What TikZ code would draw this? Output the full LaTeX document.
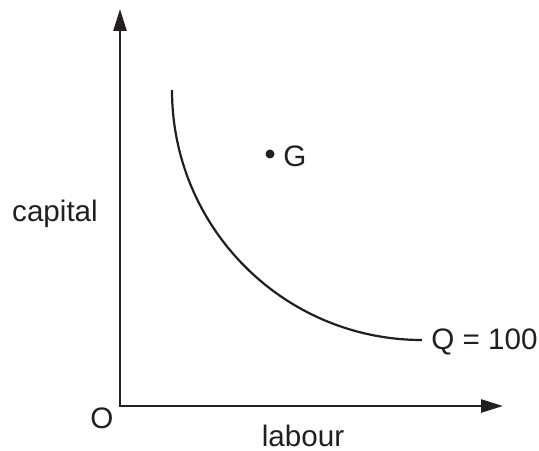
\documentclass[tikz,border=0pt]{standalone}
\usepackage{fontspec}
\setmainfont{Liberation Sans}
\usetikzlibrary{arrows.meta}
\definecolor{ink}{RGB}{35,31,32}

\begin{document}
\begin{tikzpicture}[x=0.5pt,y=0.5pt,font=\fontsize{14.8}{17}\selectfont]
 \useasboundingbox (0,0) rectangle (539,450);
 \coordinate (o) at (120,44);
 \coordinate (ytop) at (120,441);
 \coordinate (xend) at (503,44);
 \draw[ink,line width=1.35pt,{Triangle[length=11pt,width=6.5pt]}-{Triangle[length=11pt,width=6.5pt]}] (ytop)--(o)--(xend);
 \node[ink,inner sep=0pt] (olabel) at (102,32){O};
 \node[ink,anchor=base,inner sep=0pt] (labour) at (303,4){labour};
 \node[ink,anchor=base,inner sep=0pt] (capital) at (55,228){capital};
 \coordinate (qstart) at (172,360);
 \draw[ink,line width=1.1pt] (qstart) arc[start angle=180,end angle=270,radius=250] coordinate (qend);
 \node[ink,right,inner sep=0pt] (qlabel) at (431,108){Q = 100};
 \node[circle,fill=ink,inner sep=0pt,minimum size=4.5pt] (g) at (270,296){};
 \node[ink,right,inner sep=0pt] (glabel) at (283,294){G};
\end{tikzpicture}
\end{document}
